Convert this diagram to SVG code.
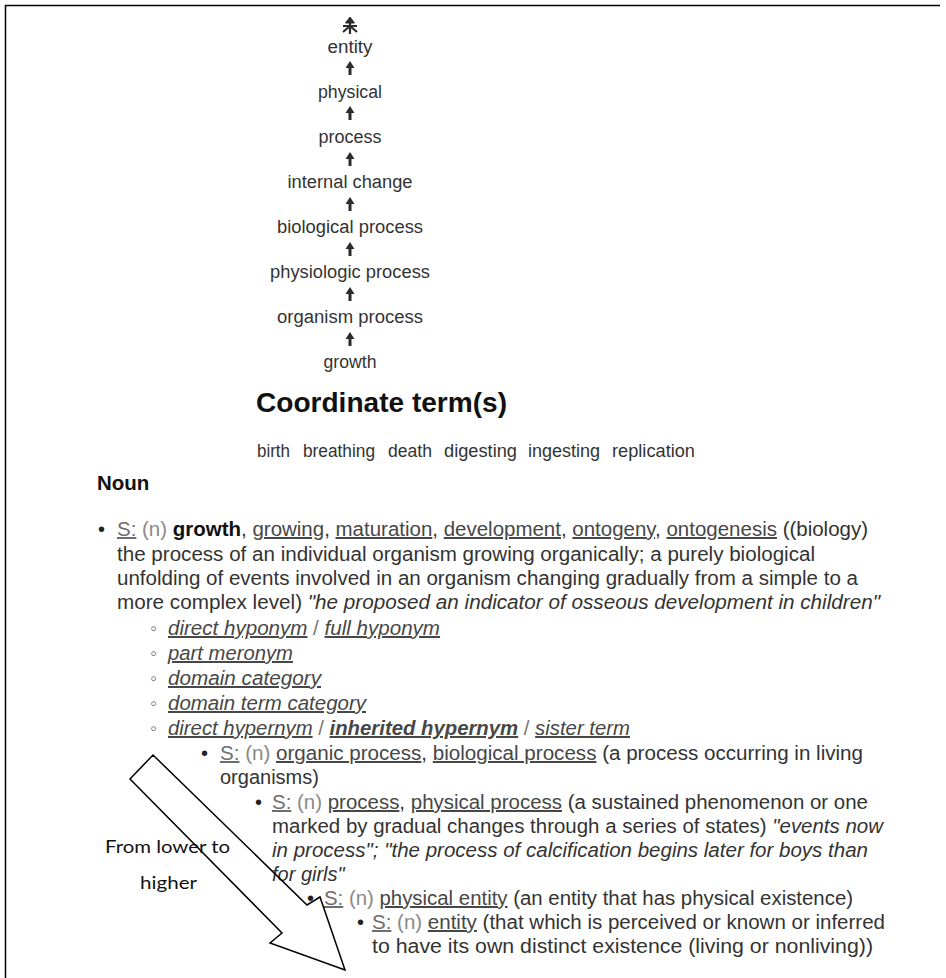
<svg xmlns="http://www.w3.org/2000/svg" xmlns:xlink="http://www.w3.org/1999/xlink" width="946" height="978" viewBox="0 0 946 978">
<style>
text{font-family:"Liberation Sans",Arial,sans-serif;}
.lbl{font-size:18px;fill:#333;text-anchor:middle;}
.ct{font-size:17.5px;fill:#333;}
.b{font-size:20px;fill:#333;}
.s{fill:#6e6e6e;text-decoration:underline;}
.n{fill:#8a8a8a;}
.lk{fill:#474747;text-decoration:underline;}
.it{font-style:italic;}
.ilk{font-style:italic;fill:#474747;text-decoration:underline;}
.sl{fill:#777;}
.bul{font-size:20px;fill:#222;}
.cir{font-size:20px;fill:#777;}
.note{font-family:Lato,"Open Sans",sans-serif;font-size:17px;fill:#111;}
</style>
<defs>
<path id="up" d="M0,0 L-4.5,7 L-1.5,7 L-1.5,14 L1.5,14 L1.5,7 L4.5,7 Z" fill="#2b2b2b"/>
</defs>
<rect width="946" height="978" fill="#fff"/>
<g id="frame" stroke="#000" stroke-width="1.5" fill="none">
<path d="M5.5,978 L5.5,5.5 L940,5.5"/>
</g>
<g id="root-icon" stroke="#2b2b2b" stroke-width="2.2" fill="none">
<path d="M350,20 L350,34 M343,26 L357,26 M350,26 L343,32 M350,26 L357,32"/>
<path d="M350,17 L345.5,23 L354.5,23 Z" fill="#2b2b2b" stroke-width="1"/>
</g>
<g id="node-entity"><text class="lbl" x="350" y="53" textLength="45" lengthAdjust="spacingAndGlyphs">entity</text></g>
<g id="node-physical"><text class="lbl" x="350" y="98" textLength="64" lengthAdjust="spacingAndGlyphs">physical</text></g>
<g id="node-process"><text class="lbl" x="350" y="143" textLength="63" lengthAdjust="spacingAndGlyphs">process</text></g>
<g id="node-internal-change"><text class="lbl" x="350" y="188" textLength="125" lengthAdjust="spacingAndGlyphs">internal change</text></g>
<g id="node-biological-process"><text class="lbl" x="350" y="233" textLength="146" lengthAdjust="spacingAndGlyphs">biological process</text></g>
<g id="node-physiologic-process"><text class="lbl" x="350" y="278" textLength="160" lengthAdjust="spacingAndGlyphs">physiologic process</text></g>
<g id="node-organism-process"><text class="lbl" x="350" y="323" textLength="146" lengthAdjust="spacingAndGlyphs">organism process</text></g>
<g id="node-growth"><text class="lbl" x="350" y="368" textLength="53" lengthAdjust="spacingAndGlyphs">growth</text></g>
<g id="connectors">
<use xlink:href="#up" x="350" y="61"/>
<use xlink:href="#up" x="350" y="106"/>
<use xlink:href="#up" x="350" y="152"/>
<use xlink:href="#up" x="350" y="197"/>
<use xlink:href="#up" x="350" y="242"/>
<use xlink:href="#up" x="350" y="287"/>
<use xlink:href="#up" x="350" y="332"/>
</g>
<g id="coordinate-terms">
<text x="256" y="412" font-size="28" font-weight="bold" fill="#111" textLength="251" lengthAdjust="spacingAndGlyphs">Coordinate term(s)</text>
<text class="ct" x="257" y="457" textLength="33" lengthAdjust="spacingAndGlyphs">birth</text>
<text class="ct" x="303" y="457" textLength="72" lengthAdjust="spacingAndGlyphs">breathing</text>
<text class="ct" x="388" y="457" textLength="44" lengthAdjust="spacingAndGlyphs">death</text>
<text class="ct" x="444" y="457" textLength="73" lengthAdjust="spacingAndGlyphs">digesting</text>
<text class="ct" x="528" y="457" textLength="72" lengthAdjust="spacingAndGlyphs">ingesting</text>
<text class="ct" x="612" y="457" textLength="83" lengthAdjust="spacingAndGlyphs">replication</text>
</g>
<g id="noun">
<text x="97" y="490" font-size="20.5" font-weight="bold" fill="#111">Noun</text>
<text class="bul" x="98" y="536">•</text>
<text class="b" x="117" y="536" textLength="751" lengthAdjust="spacingAndGlyphs"><tspan class="s">S:</tspan> <tspan class="n">(n)</tspan> <tspan font-weight="bold" fill="#111">growth</tspan>, <tspan class="lk">growing</tspan>, <tspan class="lk">maturation</tspan>, <tspan class="lk">development</tspan>, <tspan class="lk">ontogeny</tspan>, <tspan class="lk">ontogenesis</tspan> ((biology)</text>
<text class="b" x="117" y="561" textLength="698" lengthAdjust="spacingAndGlyphs">the process of an individual organism growing organically; a purely biological</text>
<text class="b" x="117" y="585" textLength="741" lengthAdjust="spacingAndGlyphs">unfolding of events involved in an organism changing gradually from a simple to a</text>
<text class="b" x="117" y="609" textLength="763" lengthAdjust="spacingAndGlyphs">more complex level) <tspan class="it">"he proposed an indicator of osseous development in children"</tspan></text>
<text class="cir" x="150" y="635">◦</text>
<text class="b" x="168" y="635" textLength="272" lengthAdjust="spacingAndGlyphs"><tspan class="ilk">direct hyponym</tspan> <tspan class="sl">/</tspan> <tspan class="ilk">full hyponym</tspan></text>
<text class="cir" x="150" y="660">◦</text>
<text class="b" x="168" y="660" textLength="125" lengthAdjust="spacingAndGlyphs"><tspan class="ilk">part meronym</tspan></text>
<text class="cir" x="150" y="685">◦</text>
<text class="b" x="168" y="685" textLength="153" lengthAdjust="spacingAndGlyphs"><tspan class="ilk">domain category</tspan></text>
<text class="cir" x="150" y="710">◦</text>
<text class="b" x="168" y="710" textLength="198" lengthAdjust="spacingAndGlyphs"><tspan class="ilk">domain term category</tspan></text>
<text class="cir" x="150" y="735">◦</text>
<text class="b" x="168" y="735" textLength="462" lengthAdjust="spacingAndGlyphs"><tspan class="ilk">direct hypernym</tspan> <tspan class="sl">/</tspan> <tspan class="ilk" font-weight="bold" fill="#333">inherited hypernym</tspan> <tspan class="sl">/</tspan> <tspan class="ilk">sister term</tspan></text>
<text class="bul" x="201" y="760">•</text>
<text class="b" x="220" y="760" textLength="643" lengthAdjust="spacingAndGlyphs"><tspan class="s">S:</tspan> <tspan class="n">(n)</tspan> <tspan class="lk">organic process</tspan>, <tspan class="lk">biological process</tspan> (a process occurring in living</text>
<text class="b" x="220" y="784">organisms)</text>
<text class="bul" x="255" y="809">•</text>
<text class="b" x="272" y="809" textLength="596" lengthAdjust="spacingAndGlyphs"><tspan class="s">S:</tspan> <tspan class="n">(n)</tspan> <tspan class="lk">process</tspan>, <tspan class="lk">physical process</tspan> (a sustained phenomenon or one</text>
<text class="b" x="272" y="833" textLength="611" lengthAdjust="spacingAndGlyphs">marked by gradual changes through a series of states) <tspan class="it">"events now</tspan></text>
<text class="b it" x="272" y="857" textLength="596" lengthAdjust="spacingAndGlyphs">in process"; "the process of calcification begins later for boys than</text>
<text class="b it" x="272" y="881">for girls"</text>
<text class="bul" x="307" y="905">•</text>
<text class="b" x="324" y="905" textLength="529" lengthAdjust="spacingAndGlyphs"><tspan class="s">S:</tspan> <tspan class="n">(n)</tspan> <tspan class="lk">physical entity</tspan> (an entity that has physical existence)</text>
<text class="bul" x="357" y="929">•</text>
<text class="b" x="372" y="929" textLength="513" lengthAdjust="spacingAndGlyphs"><tspan class="s">S:</tspan> <tspan class="n">(n)</tspan> <tspan class="lk">entity</tspan> (that which is perceived or known or inferred</text>
<text class="b" x="372" y="953" textLength="501" lengthAdjust="spacingAndGlyphs">to have its own distinct existence (living or nonliving))</text>
</g>
<g id="direction-arrow">
<path d="M153,755 L307,905 L320,897 L345,970 L270,943 L282,933 L130,779 Z" fill="none" stroke="#000" stroke-width="1.5" stroke-linejoin="miter"/>
</g>
<g id="direction-label">
<text class="note" x="105" y="853" textLength="125" lengthAdjust="spacingAndGlyphs">From lower to</text>
<text class="note" x="140" y="889" textLength="57" lengthAdjust="spacingAndGlyphs">higher</text>
</g>
</svg>
